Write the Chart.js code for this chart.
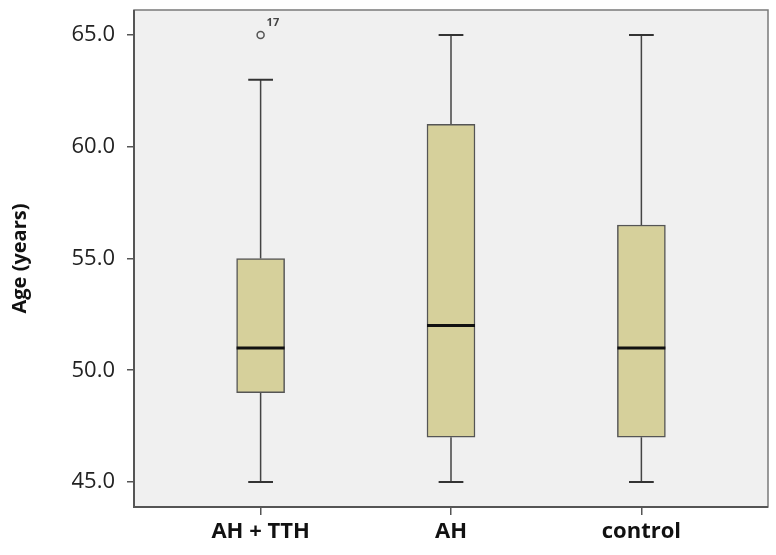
<!DOCTYPE html>
<html>
<head>
<meta charset="utf-8">
<script src="https://cdn.jsdelivr.net/npm/chart.js@4"></script>
<style>
  html, body { margin: 0; padding: 0; background: #fff; }
  #wrap { width: 776px; height: 555px; }
</style>
</head>
<body>
<div id="wrap"><canvas id="chart"></canvas></div>
<script>
// group data
const groups = ['AH + TTH', 'AH', 'control'];
const mins = [45, 45, 45];
const q1s = [49, 47, 47];
const medians = [51, 52, 51];
const q3s = [55, 61, 56.5];
const maxs = [63, 65, 65];
const outliers = [{ x: 0, y: 65, label: '17' }];
const yTicks = [45, 50, 55, 60, 65];

const capHalf = 0.065; // whisker cap half width, in x units
const boxHalf = 0.126; // median line half width, in x units
const boxColor = '#d6d09b';
const lineColor = '#555555';

// whisker segments, separated by null gaps
const whiskers = [];
const caps = [];
const medianLines = [];
groups.forEach((g, i) => {
    whiskers.push({ x: i, y: mins[i] }, { x: i, y: q1s[i] }, { x: i, y: null });
    whiskers.push({ x: i, y: q3s[i] }, { x: i, y: maxs[i] }, { x: i, y: null });
    caps.push({ x: i - capHalf, y: mins[i] }, { x: i + capHalf, y: mins[i] }, { x: i, y: null });
    caps.push({ x: i - capHalf, y: maxs[i] }, { x: i + capHalf, y: maxs[i] }, { x: i, y: null });
    medianLines.push({ x: i - boxHalf, y: medians[i] }, { x: i + boxHalf, y: medians[i] }, { x: i, y: null });
});

const frame = {
    id: 'frame',
    beforeDatasetsDraw(chart) {
        const { ctx, chartArea: a } = chart;
        ctx.save();
        ctx.fillStyle = '#f0f0f0';
        ctx.fillRect(a.left, a.top, a.right - a.left, a.bottom - a.top);
        ctx.restore();
    },
    afterDatasetsDraw(chart) {
        const { ctx, chartArea: a } = chart;
        ctx.save();
        ctx.strokeStyle = '#7a7a7a';
        ctx.lineWidth = 1.5;
        ctx.strokeRect(a.left, a.top, a.right - a.left, a.bottom - a.top);
        ctx.strokeStyle = '#555';
        ctx.lineWidth = 2;
        ctx.beginPath();
        ctx.moveTo(a.left, a.top);
        ctx.lineTo(a.left, a.bottom);
        ctx.lineTo(a.right, a.bottom);
        ctx.stroke();
        // outlier case labels
        const meta = chart.getDatasetMeta(4);
        ctx.fillStyle = '#444';
        ctx.font = 'bold 11px "Open Sans", sans-serif';
        ctx.textAlign = 'left';
        ctx.textBaseline = 'middle';
        meta.data.forEach((pt, k) => {
            ctx.fillText(outliers[k].label, pt.x + 6, pt.y - 12);
        });
        ctx.restore();
    }
};

new Chart(document.getElementById('chart'), {
    type: 'bar',
    data: {
        datasets: [
            {
                type: 'bar',
                data: groups.map((g, i) => ({ x: i, y: [q1s[i], q3s[i]] })),
                backgroundColor: boxColor,
                borderColor: lineColor,
                borderWidth: 1.5,
                borderSkipped: false,
                barThickness: 48,
                order: 2
            },
            {
                type: 'line',
                data: whiskers,
                borderColor: '#444',
                borderWidth: 1.5,
                pointRadius: 0,
                spanGaps: false,
                order: 3
            },
            {
                type: 'line',
                data: caps,
                borderColor: '#333',
                borderWidth: 2,
                pointRadius: 0,
                spanGaps: false,
                order: 1
            },
            {
                type: 'line',
                data: medianLines,
                borderColor: '#111',
                borderWidth: 3,
                pointRadius: 0,
                spanGaps: false,
                order: 0
            },
            {
                type: 'scatter',
                data: outliers.map(o => ({ x: o.x, y: o.y })),
                pointRadius: 3.5,
                pointBorderWidth: 1.5,
                borderColor: '#555',
                backgroundColor: '#f0f0f0',
                order: 0
            }
        ]
    },
    options: {
        responsive: true,
        maintainAspectRatio: false,
        animation: false,
        layout: { padding: { top: 10, right: 8, left: 8, bottom: 0 } },
        plugins: { legend: { display: false }, tooltip: { enabled: false } },
        scales: {
            x: {
                type: 'linear',
                offset: false,
                min: -0.665,
                max: 2.665,
                afterBuildTicks: s => { s.ticks = groups.map((g, i) => ({ value: i })); },
                afterFit: s => { s.height = 48; s.paddingLeft = 0; s.paddingRight = 0; },
                ticks: {
                    callback: v => groups[v],
                    color: '#111',
                    font: { family: '"Open Sans", sans-serif', size: 22, weight: 'bold' },
                    padding: 4
                },
                grid: { offset: false, drawOnChartArea: false, drawTicks: true, tickLength: 8, color: '#555', lineWidth: 1.5 },
                border: { display: false }
            },
            y: {
                min: 43.88,
                max: 66.12,
                afterBuildTicks: s => { s.ticks = yTicks.map(v => ({ value: v })); },
                afterFit: s => { s.width = 126; s.paddingTop = 0; s.paddingBottom = 0; },
                ticks: {
                    callback: v => v.toFixed(1),
                    color: '#222',
                    font: { family: '"Open Sans", sans-serif', size: 22 },
                    padding: 12
                },
                grid: { drawOnChartArea: false, drawTicks: true, tickLength: 7, color: '#555', lineWidth: 1.5 },
                border: { display: false },
                title: {
                    display: true,
                    text: 'Age (years)',
                    color: '#111',
                    font: { family: '"Open Sans", sans-serif', size: 20, weight: 'bold' },
                    padding: { top: 0, bottom: 0 }
                }
            }
        }
    },
    plugins: [frame]
});
</script>
</body>
</html>
